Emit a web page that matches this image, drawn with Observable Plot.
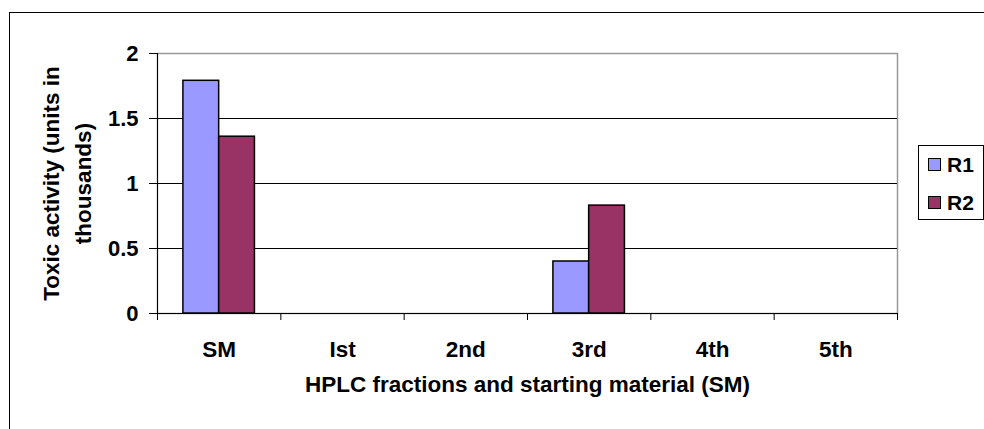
<!DOCTYPE html>
<html>
<head>
<meta charset="utf-8">
<script src="https://cdn.jsdelivr.net/npm/d3@7"></script>
<script src="https://cdn.jsdelivr.net/npm/@observablehq/plot@0.6"></script>
<style>
  html, body { margin: 0; padding: 0; background: #fff; }
  #wrap { position: relative; width: 984px; height: 429px; overflow: hidden; background: #fff;
          font-family: "Liberation Sans", Arial, sans-serif; }
  #border { position: absolute; left: 9px; top: 12px; width: 1000px; height: 500px; border: 1px solid #000; }
  #chart { position: absolute; left: 0; top: 0; }
  #legend { position: absolute; left: 918px; top: 145px; width: 66px; height: 75px; box-sizing: border-box;
            border: 1px solid #000; background: #fff; }
  .sw { position: absolute; left: 9px; width: 13px; height: 13px; box-sizing: border-box; border: 1px solid #000; }
  .lb { position: absolute; left: 28px; font-size: 21px; line-height: 20px; font-weight: bold; color: #000; }
</style>
</head>
<body>
<div id="wrap">
  <div id="border"></div>
  <div id="chart"></div>
  <div id="legend"></div>
</div>
<script>
// ---- data ----
const categories = ["SM", "Ist", "2nd", "3rd", "4th", "5th"];
const seriesNames = ["R1", "R2"];
const r1 = [1.79, 0, 0, 0.40, 0, 0];
const r2 = [1.36, 0, 0, 0.83, 0, 0];
const yTicks = [0, 0.5, 1, 1.5, 2];
const seriesColors = ["#9999FF", "#993366"];
const xTitle = "HPLC fractions and starting material (SM)";
const yTitle = "Toxic activity (units in\nthousands)";

// ---- table ----
const seriesValues = [r1, r2];
const rows = [];
categories.forEach((c, i) => {
  seriesNames.forEach((s, j) => {
    rows.push({category: c, i, series: s, j, value: seriesValues[j][i]});
  });
});

// layout of the clustered bars within each category slot
const groupPad = 0.21, barW = 0.29;

const plot = Plot.plot({
  width: 984,
  height: 429,
  marginLeft: 157,
  marginRight: 87,
  marginTop: 53,
  marginBottom: 116,
  style: {
    fontFamily: '"Liberation Sans", Arial, sans-serif',
    fontSize: "22px",
    fontWeight: "bold",
    color: "#000",
    background: "transparent",
    overflow: "visible"
  },
  x: {domain: [0, categories.length], axis: null},
  y: {domain: [0, 2], axis: null},
  color: {domain: seriesNames, range: seriesColors},
  marks: [
    Plot.frame({stroke: "#999", strokeWidth: 1.5}),
    Plot.ruleY(yTicks.filter(t => t > 0 && t < 2), {stroke: "#000", strokeWidth: 1}),
    Plot.rect(rows.filter(d => d.value > 0), {
      x1: d => d.i + groupPad + d.j * barW,
      x2: d => d.i + groupPad + (d.j + 1) * barW,
      y1: 0,
      y2: "value",
      fill: "series",
      stroke: "#000",
      strokeWidth: 1.5
    }),
    Plot.ruleX([0], {stroke: "#000"}),
    Plot.ruleY([0], {stroke: "#000"}),
    Plot.axisY(yTicks, {
      tickSize: 8, tickPadding: 11, fontSize: 22, fontWeight: "bold",
      tickFormat: d => String(d), label: null, stroke: "#000"
    }),
    Plot.axisX(d3.range(categories.length + 1), {
      tickSize: 7, tickFormat: () => "", label: null, stroke: "#000"
    }),
    Plot.axisX(categories.map((c, i) => i + 0.5), {
      tickSize: 0, tickPadding: 28, fontSize: 22.5, fontWeight: "bold",
      tickFormat: v => categories[Math.floor(v)], label: null
    }),
    Plot.text([xTitle], {
      text: d => d, frameAnchor: "bottom", dy: 78, fontSize: 22.5, fontWeight: "bold", fill: "#000"
    }),
    Plot.text([yTitle], {
      text: d => d, frameAnchor: "left", textAnchor: "middle", dx: -93, rotate: -90, fontSize: 22.5,
      fontWeight: "bold", lineHeight: 1.42, fill: "#000"
    })
  ]
});
document.getElementById("chart").appendChild(plot);

// ---- legend ----
const legend = document.getElementById("legend");
const swTops = [12, 50], lbTops = [9, 47];
seriesNames.forEach((s, j) => {
  const sw = document.createElement("div");
  sw.className = "sw";
  sw.style.top = swTops[j] + "px";
  sw.style.background = seriesColors[j];
  legend.appendChild(sw);
  const lb = document.createElement("div");
  lb.className = "lb";
  lb.style.top = lbTops[j] + "px";
  lb.textContent = s;
  legend.appendChild(lb);
});
</script>
</body>
</html>
